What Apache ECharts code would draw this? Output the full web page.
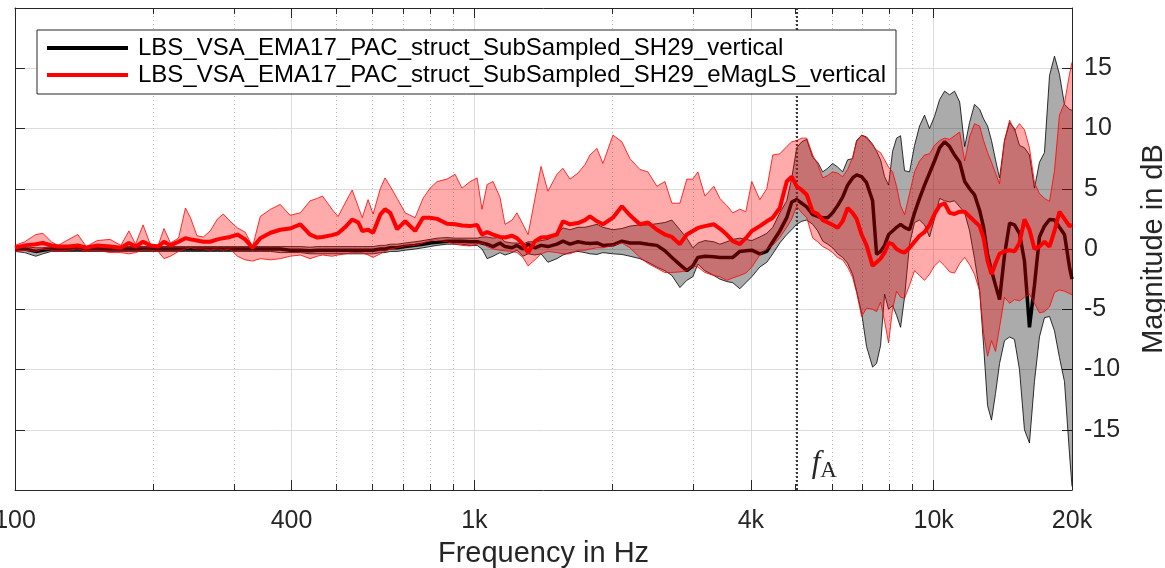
<!DOCTYPE html>
<html>
<head>
<meta charset="utf-8">
<script src="https://cdn.jsdelivr.net/npm/echarts@6/dist/echarts.min.js"></script>
<style>
html, body { margin: 0; padding: 0; background: #fff; }
#chart { width: 1165px; height: 568px; }
</style>
</head>
<body>
<div id="chart"></div>
<script>
// frequency grid (Hz), log spaced by eye
var freqHz = [
    100, 105, 111, 115, 120, 124, 131, 137, 143, 151,
    161, 170, 177, 183, 190, 197, 205, 211, 218, 227,
    235, 241, 249, 257, 266, 276, 284, 294, 305, 317,
    329, 342, 360, 378, 397, 418, 439, 455, 467, 490,
    505, 523, 542, 559, 570, 587, 602, 624, 639, 656,
    679, 707, 743, 773, 801, 830, 872, 908, 940, 979,
    1014, 1039, 1066, 1098, 1137, 1166, 1208, 1238, 1276, 1309,
    1355, 1397, 1446, 1513, 1559, 1615, 1681, 1741, 1785, 1849,
    1905, 2003, 2095, 2181, 2293, 2387, 2497, 2599, 2692, 2802,
    2901, 2990, 3066, 3176, 3322, 3423, 3545, 3653, 3784, 3899,
    4018, 4182, 4331, 4463, 4623, 4787, 4909, 5032, 5160, 5291,
    5452, 5590, 5732, 5877, 6026, 6178, 6335, 6495, 6659, 6794,
    6966, 7142, 7361, 7510, 7662, 7817, 7975, 8136, 8301, 8469,
    8640, 8859, 9084, 9314, 9550, 9792, 10040, 10300, 10560, 10830,
    11100, 11390, 11680, 11970, 12270, 12590, 12840, 13100, 13360, 13630,
    13910, 14260, 14630, 14990, 15370, 15760, 16160, 16570, 16990, 17420,
    17870, 18320, 18780, 19260, 19750, 20000
];

// SH29_vertical: mean and min/max band (dB)
var blackMean = [
    0, 0, -0.2, -0.1, 0, 0, 0, 0, 0, 0,
    0, 0, 0, 0, 0, 0, 0, 0, 0, 0,
    0, 0, 0, 0, 0, 0, 0, 0, 0, 0,
    0, 0, 0, 0, -0.1, -0.1, -0.15, -0.1, -0.1, -0.1,
    -0.1, -0.1, -0.1, -0.1, -0.1, -0.1, -0.1, 0, 0, 0.1,
    0.1, 0.2, 0.3, 0.4, 0.5, 0.55, 0.65, 0.65, 0.65, 0.6,
    0.6, 0.5, 0.4, 0.2, 0.5, 0.2, 0.1, 0.3, 0, 0.4,
    0.1, 0.3, 0.2, 0.4, 0.65, 0.4, 0.6, 0.5, 0.45, 0.5,
    0.3, 0.35, 0.65, 0.5, 0.5, 0.4, 0.3, -0.15, -0.7, -1.3,
    -1.8, -1.4, -0.7, -0.6, -0.65, -0.7, -0.7, -0.7, -0.2, -0.15,
    -0.1, -0.4, -0.2, 0.6, 1.5, 2.6, 3.9, 4.1, 3.8, 3.5,
    2.85, 2.7, 2.6, 2.6, 3.0, 3.6, 4.3, 5.3, 5.9, 6.15,
    6.0, 5.5, 4.0, -0.45, -0.2, 0.3, 1.2, 1.5, 1.8, 2.05,
    1.8, 1.6, 3.0, 4.2, 5.3, 6.3, 7.3, 8.4, 8.9, 8.5,
    7.8, 7.2, 5.6, 5.0, 4.5, 3.2, 1.8, -0.5, -1.8, -3.0,
    -4.2, -0.5, 2.15, 2.0, 1.3, -1.0, -6.5, -3.0, 1.0, 1.9,
    2.45, 2.4, 1.8, 1.2, -1.5, -2.5
];
var blackLow = [
    -0.2, -0.3, -0.6, -0.4, -0.2, -0.2, -0.2, -0.2, -0.2, -0.2,
    -0.2, -0.2, -0.2, -0.2, -0.2, -0.2, -0.2, -0.2, -0.2, -0.2,
    -0.2, -0.2, -0.2, -0.2, -0.2, -0.2, -0.2, -0.2, -0.2, -0.2,
    -0.2, -0.2, -0.2, -0.3, -0.3, -0.3, -0.4, -0.4, -0.4, -0.4,
    -0.4, -0.4, -0.4, -0.4, -0.4, -0.4, -0.4, -0.3, -0.3, -0.2,
    -0.2, -0.1, 0, 0.1, 0.2, 0.3, 0.4, 0.4, 0.4, 0.3,
    0.3, 0, -0.8, -0.6, -0.3, -0.5, -0.3, -0.1, -0.6, -0.4,
    -0.5, -0.4, -1.1, -0.8, -0.5, -0.3, -0.2, -0.3, -0.4, -0.45,
    -0.3, -0.4, -0.45, -0.6, -0.8, -1.1, -1.5, -1.8, -2.2, -3.2,
    -2.6, -2.3, -1.25, -1.8, -2.2, -2.5, -2.7, -2.8, -3.3, -2.8,
    -2.3, -1.5, -1.1, -0.4, 0.5, 1.2, 1.6, 2.05, 2.3, 2.4,
    2.05, 1.5, 0.65, 0.4, 0.1, -0.4, -0.7, -1.2, -2.1, -3.5,
    -5.3, -8.1, -9.8, -9.5, -8.0, -3.75, -5.0, -4.7, -5.5, -6.5,
    -4.0, 0.4, 2.2, 2.4, 2.0, 1.0, 2.5, 4.2, 4.0, 3.9,
    4.0, 3.5, 3.0, 1.5, -0.8, -3.5, -8.0, -13.0, -14.2, -12.0,
    -9.5, -7.6, -7.3, -7.5, -10.0, -15.0, -16.1, -11.0, -7.3, -5.7,
    -5.6, -6.8, -9.0, -11.0, -17.0, -19.7
];
var blackHigh = [
    0.2, 0.2, 0.1, 0.1, 0.2, 0.2, 0.2, 0.2, 0.2, 0.2,
    0.2, 0.2, 0.2, 0.2, 0.2, 0.2, 0.2, 0.2, 0.2, 0.2,
    0.2, 0.2, 0.2, 0.2, 0.2, 0.2, 0.2, 0.2, 0.2, 0.2,
    0.2, 0.2, 0.2, 0.2, 0.2, 0.2, 0.15, 0.2, 0.2, 0.2,
    0.2, 0.2, 0.2, 0.2, 0.2, 0.2, 0.2, 0.3, 0.3, 0.4,
    0.4, 0.5, 0.6, 0.7, 0.8, 0.9, 0.95, 0.9, 0.9, 0.9,
    0.9, 1.0, 1.0, 0.9, 1.0, 0.6, 0.5, 0.5, 0.4, 0.6,
    0.6, 0.7, 0.8, 1.2, 1.75, 1.6, 1.8, 1.8, 1.9, 2.05,
    1.8, 1.6, 1.7, 1.9, 2.0, 2.0, 2.1, 2.2, 2.4, 1.6,
    0.9, 0.1, 0.5, 0.7, 0.6, 0.4, 0.6, 0.8, 0.9, 0.8,
    0.7, 1.0, 1.3, 1.8, 3.0, 4.0, 5.9, 8.4, 8.9, 9.1,
    7.6, 7.2, 6.4, 6.7, 7.1, 6.8, 6.4, 7.4, 7.5, 9.0,
    9.45, 9.3, 8.7, 8.1, 7.4, 6.0, 5.3, 8.1, 9.2, 9.4,
    6.5, 6.4, 8.6, 10.2, 11.1, 10.0, 11.0, 12.4, 13.1, 12.8,
    13.1, 12.2, 8.5, 10.5, 12.0, 11.6, 10.8, 10.2, 9.0, 7.4,
    5.9, 9.0, 10.5, 10.0, 8.6, 8.4, 7.8, 5.05, 7.2, 8.0,
    14.4, 16.0, 14.5, 12.0, 11.6, 11.5
];

// SH29_eMagLS_vertical: mean and min/max band (dB)
var redMean = [
    0.1, 0.3, 0.4, 0.5, 0.3, 0.2, 0.2, 0.3, 0.1, 0.3,
    0.2, 0.1, 0.5, 0.2, 0.6, 0.3, 0.2, 0.6, 0.3, 0.6,
    0.9, 0.8, 0.7, 0.6, 0.6, 0.8, 0.9, 1.0, 1.2, 0.8,
    0.1, 0.9, 1.35, 1.6, 1.7, 2.05, 1.2, 0.95, 1.0, 1.15,
    1.3, 1.8, 2.45, 2.2, 1.5, 1.6, 1.35, 2.85, 3.3, 3.0,
    1.65, 2.3, 1.5, 2.6, 2.6, 2.5, 2.1, 2.05, 1.95, 1.9,
    2.0, 1.2, 1.4, 1.2, 1.0, 0.95, 1.1, 0.9, 0.4, -0.3,
    0.65, 0.95, 1.0, 1.2, 2.3, 2.05, 2.15, 2.4, 2.7, 2.3,
    2.05, 2.6, 3.55, 2.8, 2.05, 2.2, 1.6, 1.2, 1.0, 0.4,
    1.2, 1.5, 1.75, 1.9, 2.05, 1.7, 1.2, 0.65, 0.4, 0.9,
    1.5, 1.9, 2.3, 2.6, 3.4, 5.6, 6.0, 5.2, 4.9, 4.5,
    3.1, 2.9, 2.4, 2.2, 2.0, 1.75, 2.3, 3.4, 3.0, 2.5,
    1.2, 0.3, -1.4, -1.1, -0.8, -0.3, 0.5, 0.4, 0, -0.2,
    -0.3, 0.1, 0.6, 1.1, 1.4, 2.0, 2.9, 3.6, 3.8, 3.0,
    2.9, 3.1, 3.1, 2.7, 2.3, 1.9, 0.9, -1.0, -2.1, -1.2,
    -0.4, -0.2, -0.1, -0.2, 0.5, 2.45, 1.6, 0, 0.2, 0.6,
    0.2, 1.5, 3.1, 2.5, 1.9, 2.0
];
var redLow = [
    -0.2, -0.1, -0.2, 0, -0.1, -0.2, -0.1, 0, -0.2, -0.1,
    -0.3, -0.3, -0.4, -0.3, -0.1, -0.1, -0.2, -0.8, -0.6, -0.2,
    0, 0.1, 0, 0, -0.1, 0, -0.1, 0, -0.6, -0.9,
    -1.0, -0.8, -0.9, -0.8, -0.6, -0.5, -0.8, -0.6, -0.5, -0.6,
    -0.5, -0.4, -0.3, -0.3, -0.3, -0.5, -0.7, -0.4, -0.2, 0,
    0.1, 0.25, 0.3, 0.5, 0.7, 0.75, 0.6, 0.4, 0.3, 0.25,
    0.4, 0.5, 0.2, 0, -0.1, -0.15, -0.2, -0.3, -0.7, -1.4,
    -0.9, -0.4, -0.2, -0.3, -0.4, -0.4, -0.1, -0.1, 0, 0.1,
    0.1, 0.3, 0.5, 0.1, -0.7, -1.2, -1.6, -1.95, -1.95, -1.9,
    -1.8, -1.4, -1.5, -1.95, -2.2, -2.3, -2.6, -2.4, -2.2, -2.0,
    -1.5, -0.5, 0, 0.3, 0.95, 1.8, 2.5, 3.55, 3.0, 2.6,
    0.9, 0.6, 0.2, 0, -0.3, -0.7, -0.9, -1.5, -2.35, -3.6,
    -5.6, -4.9, -5.0, -5.2, -4.4, -6.0, -7.8, -5.0, -3.5, -4.0,
    -4.1, -3.0, -1.8, -2.2, -2.6, -2.1, -1.4, -1.0, -1.4, -1.9,
    -2.0, -1.2, -0.7, -1.3, -2.1, -3.5, -7.0, -8.9, -7.6, -8.5,
    -6.5, -4.0, -4.5, -4.2, -4.3, -4.0, -3.75, -4.5, -5.3, -5.2,
    -4.8, -3.6, -3.4, -3.5, -3.7, -3.8
];
var redHigh = [
    0.3, 0.6, 1.2, 1.3, 0.6, 0.3, 0.8, 1.2, 0.2, 0.7,
    0.8, 0.3, 1.5, 0.4, 2.0, 0.4, 0.3, 1.7, 0.5, 0.9,
    3.4, 2.6, 1.1, 1.0, 1.5, 2.5, 2.9, 2.3, 1.75, 1.4,
    0.2, 2.7, 3.3, 3.7, 2.8, 3.0, 4.0, 4.2, 4.4, 3.3,
    2.7, 3.8, 4.9, 3.5, 2.6, 4.1, 2.9, 5.0, 5.9, 5.2,
    4.2, 3.0, 2.6, 4.2, 5.05, 5.6, 5.8, 6.2, 5.05, 5.6,
    5.9, 3.3, 5.35, 5.6, 4.3, 2.05, 2.4, 3.0, 2.05, 1.2,
    4.2, 6.85, 4.8, 6.2, 6.7, 5.8, 6.3, 7.0, 7.8, 8.35,
    7.1, 9.45, 8.9, 7.5, 6.6, 6.4, 5.2, 5.6, 3.8, 3.8,
    5.8, 5.8, 6.4, 4.4, 5.2, 4.2, 3.6, 3.0, 3.3, 3.1,
    5.6, 4.1, 5.0, 7.8, 7.9, 8.5, 8.9, 9.0, 9.2, 9.2,
    7.8, 7.0, 5.9, 6.1, 6.4, 6.3, 6.0, 6.6, 7.6, 8.9,
    9.45, 9.2, 8.6, 8.2, 8.0, 7.4, 6.8, 6.4, 5.2, 3.6,
    2.85, 4.6, 6.4, 7.3, 7.8, 7.9, 8.6, 9.0, 9.2, 9.1,
    9.4, 9.7, 7.3, 9.3, 10.4, 10.2, 9.0, 8.0, 7.2, 6.3,
    5.4, 9.0, 10.7, 9.8, 10.4, 9.9, 8.4, 5.5, 4.6, 4.2,
    3.95, 6.5, 11.1, 12.1, 14.5, 15.5
];

var nameBlack = 'LBS_VSA_EMA17_PAC_struct_SubSampled_SH29_vertical';
var nameRed = 'LBS_VSA_EMA17_PAC_struct_SubSampled_SH29_eMagLS_vertical';
var majorTicks = [100, 400, 1000, 4000, 10000, 20000];
var minorTicks = [200, 300, 500, 600, 700, 800, 900, 2000, 3000, 5000, 6000, 7000, 8000, 9000];
var fA = 5030;

var FONT = '"Liberation Sans", Arial, Helvetica, sans-serif';
var SERIF = '"Liberation Serif", "DejaVu Serif", serif';
var AX = '#262626';

function pairs(vals) {
    return freqHz.map(function (f, i) { return [f, vals[i]]; });
}
function hzLabel(v) {
    v = Math.round(v);
    return v >= 1000 ? (v / 1000) + 'k' : String(v);
}

// min/max band as one filled polygon, drawn through the axes with api.coord
function bandSeries(id, lo, hi, fill, edge, z) {
    return {
        id: id, type: 'custom', silent: true, clip: true, z: z,
        data: freqHz.map(function (f, i) { return [f, lo[i], hi[i]]; }),
        encode: { x: 0, y: [1, 2] },
        renderItem: function (params, api) {
            if (params.dataIndexInside !== 0) return null;
            var n = params.dataInsideLength;
            var top = [], bot = [];
            for (var i = 0; i < n; i++) {
                var f = api.value(0, i);
                top.push(api.coord([f, api.value(2, i)]));
                bot.push(api.coord([f, api.value(1, i)]));
            }
            return {
                type: 'group',
                children: [
                    { type: 'polygon', shape: { points: top.concat(bot.slice().reverse()) },
                      style: { fill: fill, stroke: null } },
                    { type: 'polyline', shape: { points: top },
                      style: { fill: null, stroke: edge, lineWidth: 0.8 } },
                    { type: 'polyline', shape: { points: bot },
                      style: { fill: null, stroke: edge, lineWidth: 0.8 } }
                ]
            };
        }
    };
}

function xAx(pos, ticks, major) {
    return {
        type: 'log', logBase: 10, min: 100, max: 20000, position: pos,
        axisLine: { show: major, onZero: false, lineStyle: { color: AX, width: 1 } },
        axisTick: { show: true, inside: true, length: major ? 10 : 6, customValues: ticks,
            lineStyle: { color: AX, width: 1 } },
        axisLabel: { show: false },
        splitLine: { show: false },
        minorTick: { show: false },
        silent: true
    };
}

var xMain = xAx('bottom', majorTicks, true);
xMain.axisLabel = { show: true, customValues: majorTicks, formatter: hzLabel,
    fontSize: 25, color: AX, fontFamily: FONT, margin: 19,
    alignMinLabel: 'center', alignMaxLabel: 'center' };
xMain.splitLine = { show: true, lineStyle: { color: '#dcdcdc', width: 1 } };
xMain.name = 'Frequency in Hz';
xMain.nameLocation = 'middle';
xMain.nameGap = 49;
xMain.nameTextStyle = { fontSize: 29, color: AX, fontFamily: FONT };

var xMinor = xAx('top', minorTicks, false);
xMinor.splitLine = { show: true, lineStyle: { color: '#b8b8b8', width: 1, type: [1, 3] } };

var chart = echarts.init(document.getElementById('chart'));

var option = {
    animation: false,
    backgroundColor: '#fff',
    grid: { left: 15, right: 93, top: 8, bottom: 78, containLabel: false, outerBoundsMode: 'none' },
    legend: {
        data: [nameBlack, nameRed],
        orient: 'vertical',
        left: 37, top: 30,
        icon: 'rect',
        itemWidth: 81, itemHeight: 4,
        itemGap: 3,
        padding: [6, 10, 7, 10],
        backgroundColor: '#fff',
        borderColor: AX, borderWidth: 1,
        textStyle: { fontSize: 24, color: '#000', fontFamily: FONT, padding: [0, 0, 0, 5] },
        selectedMode: false,
        z: 20
    },
    xAxis: [
        xMain,
        xAx('top', majorTicks, true),
        xMinor,
        xAx('bottom', minorTicks, false)
    ],
    yAxis: [
        {
            type: 'value', position: 'right', min: -20, max: 20, interval: 5,
            axisLine: { show: true, lineStyle: { color: AX, width: 1 } },
            axisTick: { show: true, inside: true, length: 10, lineStyle: { color: AX } },
            axisLabel: { showMinLabel: false, showMaxLabel: false, fontSize: 25,
                color: AX, fontFamily: FONT, margin: 12 },
            splitLine: { show: true, lineStyle: { color: '#dcdcdc', width: 1 } },
            name: 'Magnitude in dB', nameLocation: 'middle', nameRotate: 90, nameGap: 67,
            nameTextStyle: { fontSize: 29, color: AX, fontFamily: FONT }
        },
        {
            type: 'value', position: 'left', min: -20, max: 20, interval: 5,
            axisLine: { show: true, lineStyle: { color: AX, width: 1 } },
            axisTick: { show: true, inside: true, length: 10, lineStyle: { color: AX } },
            axisLabel: { show: false },
            splitLine: { show: false }
        }
    ],
    series: [
        bandSeries('bandBlack', blackLow, blackHigh, 'rgba(0,0,0,0.33)', '#000', 3),
        {
            name: nameBlack, type: 'line', data: pairs(blackMean), z: 4,
            showSymbol: false, silent: true, color: '#000',
            lineStyle: { color: '#000', width: 3.5 }
        },
        bandSeries('bandRed', redLow, redHigh, 'rgba(255,0,0,0.33)', '#ff0000', 5),
        {
            name: nameRed, type: 'line', data: pairs(redMean), z: 6,
            showSymbol: false, silent: true, color: '#ff0000',
            lineStyle: { color: '#ff0000', width: 4 },
            markLine: {
                silent: true, symbol: ['none', 'none'],
                label: { show: false },
                lineStyle: { color: '#3a3a3a', width: 2, type: [2, 2] },
                data: [{ xAxis: fA }]
            }
        }
    ]
};

chart.setOption(option);

// f_A label next to the dotted line
var px = chart.convertToPixel({ xAxisIndex: 0 }, fA);
chart.setOption({
    graphic: [{
        type: 'text', left: px + 15, top: 448, silent: true,
        style: {
            text: '{f|f}{a|A}',
            rich: {
                f: { fontFamily: SERIF, fontStyle: 'italic', fontSize: 31, fill: '#262626' },
                a: { fontFamily: SERIF, fontSize: 23, fill: '#262626', padding: [14, 0, 0, 0] }
            }
        }
    }]
});
</script>
</body>
</html>
